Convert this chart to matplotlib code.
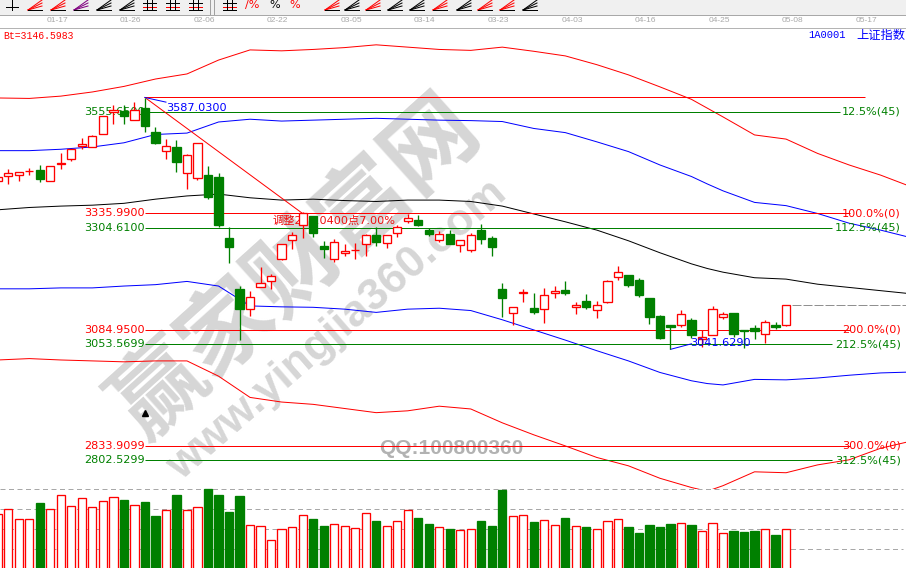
import matplotlib
matplotlib.use("Agg")
import matplotlib.pyplot as plt

CJK = ["DejaVu Sans", "Noto Sans CJK SC"]
RED = "#ff0000"
GREEN = "#008000"
BLUE = "#0000ff"
THIN = 0.72
BOX = 0.95

# candles
highs = [3415, 3432, 3425, 3435, 3441, 3438, 3466, 3476, 3499, 3506, 3548, 3571, 3571, 3577, 3587, 3523,
         3497, 3495, 3464, 3488, 3439, 3424, 3306, 3179, 3168, 3220, 3205, 3269, 3295, 3340, 3331, 3276,
         3281, 3269, 3273, 3292, 3306, 3289, 3311, 3335, 3333, 3305, 3298, 3300, 3279, 3293, 3313, 3287,
         3185, 3133, 3172, 3163, 3174, 3179, 3190, 3144, 3162, 3146, 3192, 3222, 3203, 3196, 3153, 3116,
         3095, 3127, 3110, 3084, 3135, 3123, 3121, 3084, 3094, 3105, 3101, 3137]
body_tops = [3414, 3423, 3425, 3428, 3430, 3438, 3445, 3475, 3487, 3503, 3548, 3561, 3557, 3559, 3564, 3512,
             3481, 3480, 3462, 3488, 3419, 3415, 3282, 3173, 3155, 3185, 3201, 3269, 3289, 3337, 3331, 3266,
             3274, 3254, 3258, 3289, 3289, 3289, 3307, 3327, 3323, 3300, 3291, 3291, 3279, 3290, 3300, 3282,
             3173, 3133, 3167, 3131, 3160, 3169, 3170, 3137, 3146, 3137, 3189, 3209, 3203, 3192, 3153, 3114,
             3094, 3118, 3106, 3069, 3129, 3118, 3121, 3083, 3088, 3101, 3094, 3137]
body_bottoms = [3407, 3417, 3419, 3427, 3411, 3406, 3443, 3453, 3481, 3479, 3507, 3555, 3548, 3538, 3526, 3489,
                3472, 3448, 3423, 3413, 3372, 3311, 3264, 3130, 3130, 3178, 3189, 3238, 3278, 3311, 3294, 3260,
                3237, 3250, 3256, 3269, 3274, 3272, 3293, 3320, 3311, 3292, 3279, 3271, 3267, 3258, 3281, 3264,
                3154, 3120, 3165, 3123, 3129, 3163, 3165, 3133, 3133, 3127, 3145, 3199, 3181, 3160, 3113, 3067,
                3091, 3095, 3072, 3065, 3072, 3113, 3076, 3081, 3082, 3076, 3091, 3095]
lows = [3406, 3400, 3406, 3419, 3404, 3406, 3432, 3450, 3476, 3479, 3507, 3530, 3530, 3538, 3513, 3487,
        3455, 3426, 3390, 3408, 3367, 3307, 3228, 3062, 3114, 3178, 3173, 3235, 3259, 3284, 3286, 3240,
        3230, 3245, 3238, 3245, 3266, 3262, 3286, 3316, 3309, 3287, 3275, 3271, 3253, 3253, 3271, 3245,
        3113, 3095, 3145, 3118, 3100, 3154, 3160, 3118, 3129, 3110, 3142, 3192, 3178, 3156, 3097, 3065,
        3042, 3090, 3067, 3048, 3072, 3108, 3069, 3044, 3065, 3056, 3087, 3093]
falling = [4, 12, 14, 15, 17, 20, 21, 22, 23, 30, 31, 36, 40, 41, 43, 46, 47, 48, 51, 54, 56,
           60, 61, 62, 63, 64, 66, 70, 71, 72, 74]
volumes = [3.75, 4.0, 3.5, 3.5, 4.3, 4.0, 4.7, 4.15, 4.55, 4.1, 4.4, 4.6, 4.45, 4.2, 4.35, 3.67,
           3.95, 4.7, 3.95, 4.1, 5.0, 4.7, 3.85, 4.67, 3.2, 3.15, 2.45, 3.0, 3.1, 3.7, 3.5, 3.17,
           3.25, 3.15, 3.05, 3.8, 3.4, 3.15, 3.4, 3.95, 3.55, 3.27, 3.1, 3.0, 2.95, 3.0, 3.4, 3.17,
           4.97, 3.65, 3.7, 3.37, 3.45, 3.2, 3.55, 3.15, 3.1, 3.0, 3.4, 3.5, 3.1, 2.8, 3.2, 3.1,
           3.27, 3.3, 3.2, 2.9, 3.3, 2.8, 2.9, 2.87, 2.9, 3.0, 2.72, 3.0]

# channel lines
band_idx = [0, 3, 6, 9, 12, 15, 18, 21, 24, 27, 30, 33, 36, 39, 42, 45, 48, 51, 54, 57, 60, 63, 66,
            67.5, 69, 72, 75, 78, 81, 84, 87]
outer_top = [3586, 3585, 3590, 3599, 3611, 3627, 3638, 3668, 3690, 3688, 3691, 3695, 3701, 3696, 3691, 3689,
             3696, 3687, 3677, 3658, 3636, 3610, 3583, 3564, 3545, 3506, 3497, 3466, 3441, 3419, 3393]
inner_top = [3472, 3472, 3475, 3480, 3489, 3507, 3510, 3534, 3540, 3536, 3538, 3540, 3542, 3540, 3538, 3537,
             3535, 3520, 3511, 3491, 3470, 3441, 3416, 3400, 3385, 3360, 3353, 3336, 3315, 3300, 3283]
middle = [3344, 3349, 3352, 3354, 3358, 3367, 3374, 3378, 3370, 3365, 3367, 3364, 3362, 3365, 3365, 3362,
          3352, 3335, 3318, 3300, 3277, 3251, 3227, 3217, 3209, 3197, 3194, 3183, 3176, 3169, 3162]
inner_bot = [3173, 3173, 3175, 3175, 3179, 3182, 3189, 3179, 3136, 3134, 3133, 3129, 3122, 3129, 3131, 3126,
             3106, 3084, 3062, 3039, 3017, 2992, 2974, 2968, 2965, 2977, 2976, 2980, 2986, 2991, 2993]
outer_bot = [3019, 3022, 3019, 3017, 3015, 3017, 3017, 2984, 2938, 2928, 2923, 2914, 2905, 2909, 2919, 2913,
             2883, 2857, 2833, 2808, 2790, 2763, 2743, 2735, 2747, 2777, 2775, 2792, 2803, 2828, 2844]

# percentage levels
red_levels = [3587.03, 3335.99, 3084.95, 2833.9099]
red_left = ["", "3335.9900", "3084.9500", "2833.9099"]
red_right = ["", "100.0%(0)", "200.0%(0)", "300.0%(0)"]
green_levels = [3555.65, 3304.61, 3053.5699, 2802.5299]
green_left = ["3555.6500", "3304.6100", "3053.5699", "2802.5299"]
green_right = ["12.5%(45)", "112.5%(45)", "212.5%(45)", "312.5%(45)"]

date_labels = ["01-17", "01-26", "02-06", "02-22", "03-05", "03-14", "03-23", "04-03", "04-16", "04-25",
               "05-08", "05-17"]

W, H = 906, 568
PEAK = 14
TROUGH = 64


def px_axes(fig, top, bottom):
    ax = fig.add_axes([0, 1 - bottom / H, 1, (bottom - top) / H])
    ax.patch.set_visible(False)
    ax.axis("off")
    ax.set_xlim(0.209, 86.41)
    return ax


def price_at(y):
    return 3798 - 2.164 * y


def draw_toolbar(ax):
    ax.fill_between([0, W], 0, 14, color="#f0f0f0", zorder=0)
    ax.plot([0, W], [14.5, 14.5], color="#a8a8a8", lw=THIN)
    ax.plot([0, W], [27.5, 27.5], color="#b4b4b4", lw=THIN)
    ax.plot([210, 210], [0, 14], color="#a0a0a0", lw=THIN)
    ax.plot([214, 214], [0, 14], color="#a0a0a0", lw=THIN)

    # small fan icons
    fans = [(28, RED), (51, RED), (74, "#800080"), (97, "black"), (120, "black"), (325, RED), (345, "black"),
            (366, RED), (388, "black"), (410, "black"), (433, RED), (457, "black"), (478, RED), (500, RED),
            (523, "black")]
    for x, c in fans:
        for dy in (0, 3, 6):
            ax.plot([x, x + 14], [10, dy], color=c, lw=THIN)
        ax.plot([x, x + 14], [10, 10], color="black", lw=THIN)

    # grid icons
    for x in (143, 166, 189, 223):
        ax.plot([x, x + 13], [3, 3], color="black", lw=THIN)
        ax.plot([x, x + 13], [7, 7], color=RED, lw=THIN)
        ax.plot([x, x + 13], [10, 10], color="black", lw=THIN)
        ax.plot([x + 4, x + 4], [0, 10], color="black", lw=THIN)
        ax.plot([x + 9, x + 9], [0, 10], color="black", lw=THIN)
    ax.plot([6, 18], [7, 7], color="black", lw=THIN)
    ax.plot([12, 12], [0, 10], color="black", lw=THIN)

    ax.text(252, 5, "/%", color=RED, fontsize=8, ha="center", va="center")
    ax.text(275, 5, "%", color="black", fontsize=8, ha="center", va="center")
    ax.text(295, 5, "%", color=RED, fontsize=8, ha="center", va="center")


def draw_candles(ax):
    for i in range(len(highs)):
        c = GREEN if i in falling else RED
        ax.vlines(i, lows[i], highs[i], color=c, lw=BOX, zorder=4)
        ax.bar(i, body_tops[i] - body_bottoms[i], bottom=body_bottoms[i], width=0.78,
               facecolor=c if i in falling else "white", edgecolor=c, linewidth=BOX, zorder=5)


def draw_levels(ax):
    font = dict(fontsize=8.1, va="center", zorder=2)
    for lvl, left, right, end in zip(red_levels, red_left, red_right, [82.5, 81.1, 81.1, 81.1]):
        ax.hlines(lvl, PEAK, end, color=RED, lw=THIN, zorder=2)
        ax.text(PEAK, lvl, left, color=RED, ha="right", **font)
        ax.text(85.9, lvl, right, color=RED, ha="right", **font)
    for lvl, left, right, end in zip(green_levels, green_left, green_right, [80.1, 79.4, 79.4, 79.4]):
        ax.hlines(lvl, PEAK, end, color=GREEN, lw=THIN, zorder=2)
        ax.text(PEAK, lvl, left, color=GREEN, ha="right", **font)
        ax.text(85.9, lvl, right, color=GREEN, ha="right", **font)


fig = plt.figure(figsize=(W / 100, H / 100), dpi=100, facecolor="white")

# watermark sits under everything
fig.text(296 / W, 1 - 268 / H, "赢家财富网", color="#d6d6d6", fontsize=66, fontweight="bold",
         family="Noto Sans CJK SC", rotation=42, ha="center", va="center", rotation_mode="anchor", zorder=-2)
fig.text(337 / W, 1 - 330 / H, "www.yingjia360.com", color="#d6d6d6", fontsize=32, fontweight="bold",
         family="Liberation Sans", rotation=41, ha="center", va="center", rotation_mode="anchor", zorder=-2)
fig.text(451 / W, 1 - 449 / H, "QQ:100800360", color="#b2b2b2", fontsize=15, fontweight="bold",
         family="Liberation Sans", ha="center", va="center", zorder=-1)

chrome = fig.add_axes([0, 0, 1, 1])
chrome.patch.set_visible(False)
chrome.axis("off")
chrome.set_xlim(0, W)
chrome.set_ylim(H, 0)
draw_toolbar(chrome)

main = px_axes(fig, 27, 489)
main.set_ylim(price_at(489), price_at(27))
main.set_zorder(3)

vol = px_axes(fig, 487, 568)
vol.set_ylim((589.3 - 568) / 20, (589.3 - 487) / 20)
vol.set_zorder(2)

for i, label in enumerate(date_labels):
    main.text(5.63 + 7 * i, price_at(21), label, color="#a8a8a8", fontsize=6, family="Liberation Sans",
              ha="center", va="center", clip_on=False)

main.plot(band_idx, outer_top, color=RED, lw=THIN, zorder=1)
main.plot(band_idx, inner_top, color=BLUE, lw=THIN, zorder=1)
main.plot(band_idx, middle, color="black", lw=THIN, zorder=1)
main.plot(band_idx, inner_bot, color=BLUE, lw=THIN, zorder=1)
main.plot(band_idx, outer_bot, color=RED, lw=THIN, zorder=1)

draw_levels(main)

# swing markers
main.plot([PEAK, 29], [red_levels[0], red_levels[1]], color=RED, lw=THIN, zorder=3)
main.plot([PEAK, 16], [red_levels[0], 3577], color=BLUE, lw=THIN, zorder=3)
main.plot([TROUGH, 66], [3042, 3054], color=BLUE, lw=THIN, zorder=3)
main.text(16, 3564, "3587.0300", color=BLUE, fontsize=8.1, va="center", zorder=6)
main.text(65.9, 3056, "3041.6290", color=BLUE, fontsize=8.1, va="center", zorder=6)
main.text(26.1, 3321, "调整251.0400点7.00%", color="#f01010", fontsize=8.1, family=CJK, va="center", zorder=3)
main.plot([PEAK], [2904], marker="^", color="black", ms=4.5, zorder=4)

draw_candles(main)
main.hlines(body_tops[-1], 75.6, 86.41, color="#909090", lw=THIN, linestyles=(0, (9, 2)), zorder=2)

vol.hlines([2, 3, 4, 5], 0.209, 86.1, color="#a8a8a8", lw=THIN, linestyles=(0, (5, 3.5)), zorder=1)
for i, v in enumerate(volumes):
    c = GREEN if i in falling else RED
    vol.bar(i, v, width=0.78, facecolor=c if i in falling else "white", edgecolor=c, linewidth=BOX, zorder=3)

fig.text(3 / W, 1 - 36 / H, "Bt=3146.5983", color=RED, fontsize=7, family="Liberation Mono", va="center")
fig.text(846 / W, 1 - 35 / H, "1A0001", color=BLUE, fontsize=7.6, family="Liberation Mono", ha="right", va="center")
fig.text(905 / W, 1 - 35 / H, "上证指数", color=BLUE, fontsize=8.8, family="Noto Sans CJK SC", ha="right", va="center")

fig.savefig("out.png", dpi=100)
